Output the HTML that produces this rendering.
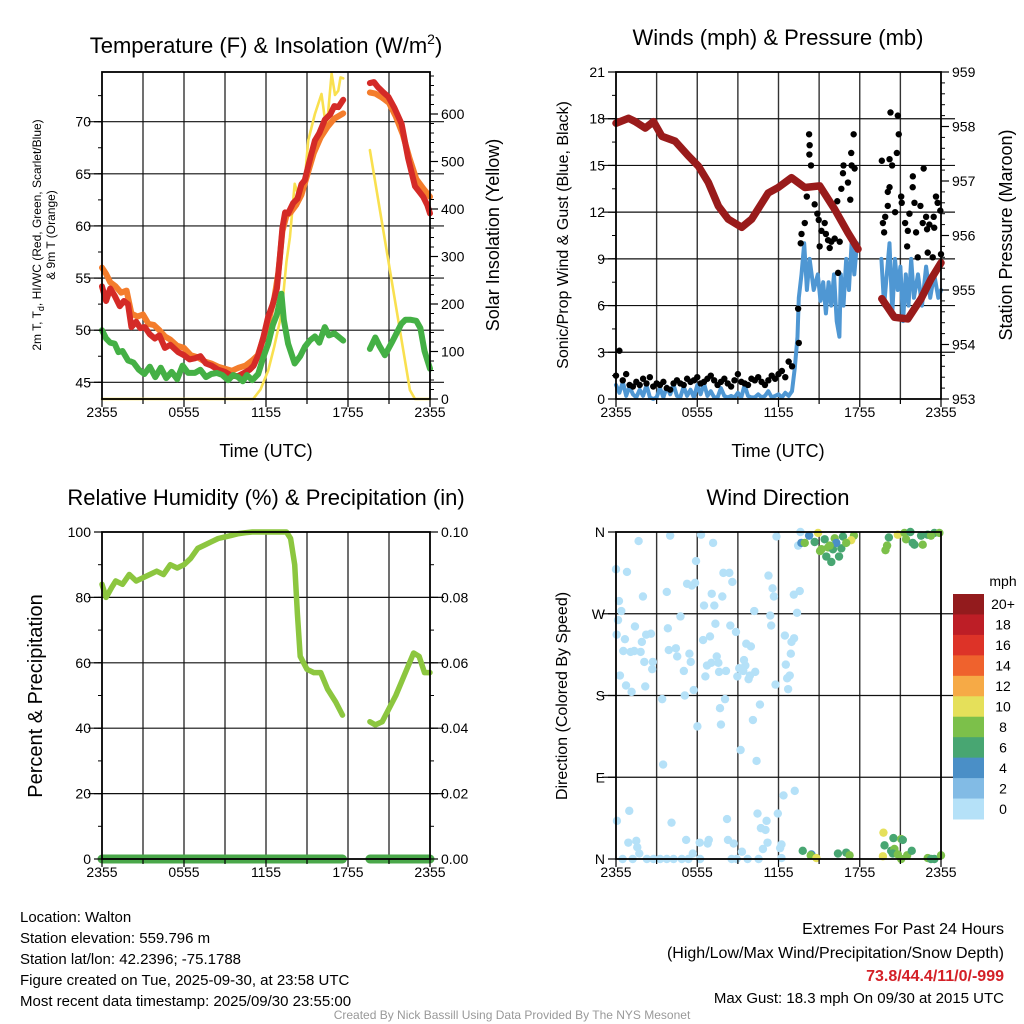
<!DOCTYPE html>
<html><head><meta charset="utf-8"><title>Walton Mesonet Meteogram</title>
<style>
html,body{margin:0;padding:0;background:#fff;}
svg{display:block;font-family:"Liberation Sans",Arial,sans-serif;}
</style></head>
<body>
<svg id="root" width="1024" height="1024" viewBox="0 0 1024 1024" xmlns="http://www.w3.org/2000/svg">
<rect x="0" y="0" width="1024" height="1024" fill="#fff"/>
<text x="20" y="922" font-size="15">Location: Walton</text>
<text x="20" y="943" font-size="15">Station elevation: 559.796 m</text>
<text x="20" y="964" font-size="15">Station lat/lon: 42.2396; -75.1788</text>
<text x="20" y="985" font-size="15">Figure created on Tue, 2025-09-30, at 23:58 UTC</text>
<text x="20" y="1006" font-size="15">Most recent data timestamp: 2025/09/30 23:55:00</text>
<text x="1004" y="934" font-size="16" text-anchor="end">Extremes For Past 24 Hours</text>
<text x="1004" y="958" font-size="16" text-anchor="end">(High/Low/Max Wind/Precipitation/Snow Depth)</text>
<text x="1004" y="981" font-size="16" font-weight="bold" fill="#d42027" text-anchor="end">73.8/44.4/11/0/-999</text>
<text x="1004" y="1003" font-size="15" text-anchor="end">Max Gust: 18.3 mph On 09/30 at 2015 UTC</text>
<text x="512" y="1019" font-size="12" fill="#999" text-anchor="middle">Created By Nick Bassill Using Data Provided By The NYS Mesonet</text>
</svg>
<script>
// ---------- DATA ----------
const xTickLabels=["2355","0555","1155","1755","2355"];
// Temperature panel
const redT=[0,.3,.6,.93,1.3,1.6,1.9,2.15,2.5,2.8,3.13,3.5,3.86,4.2,4.6,5.0,5.57,6.0,6.4,6.79,7.2,7.6,8.01,8.5,9.0,9.5,9.96,10.4,10.8,11.1,11.43,11.8,12.16,12.5,12.8,13.0,13.2,13.4,13.62,13.99,14.3,14.6,14.84,15.2,15.58,15.9,16.31,16.7,17.0,17.3,17.65,18.6,19.6,19.9,20.2,20.6,20.95,21.4,21.92,22.4,22.9,23.2,23.5,23.8,24];
const redV=[54.2,52.8,54,53.3,52.3,52.8,52.5,50.3,50.8,50.2,50.3,49.6,49.2,49.5,48.3,48.6,47.9,47.6,47.2,47.3,47.5,46.8,46.6,46.2,46.0,45.6,45.6,45.9,46.2,46.6,47.6,49.3,51.3,52.5,54.0,56.8,59.8,61.3,61.2,62.2,62.6,64,64.4,66.3,68.2,68.9,70.2,70.7,71.5,71.4,72.1,null,73.7,73.8,73.3,72.8,72.4,71.3,69.8,66.5,63.8,63.3,62.8,62,61.2];
const orangeT=[0,.3,.6,1,1.4,1.8,2.15,2.6,3,3.4,3.8,4.2,4.6,5.0,5.5,6,6.5,7,7.5,8,8.5,9,9.5,10,10.5,11,11.4,11.8,12.2,12.6,12.9,13.2,13.5,13.8,14.2,14.6,15,15.5,16,16.5,17,17.65,18.6,19.6,20,20.5,21,21.5,22,22.5,23,23.5,24];
const orangeV=[56,55.4,54.6,54.2,53.6,53.8,51.6,51.3,51.5,50.6,50.5,50,49.4,49.1,48.5,48.3,47.6,47.4,47,46.8,46.5,46.3,46.1,46.4,46.6,47.1,47.6,49.2,51,53,55.5,59.5,61,61.3,62,63,64.8,67,68.5,69.5,70.3,70.8,null,72.8,72.7,72.3,71.8,70.5,68.8,66.5,64.5,63.6,62.8];
const greenT=[0,.3,.6,.93,1.2,1.5,1.9,2.3,2.7,3.1,3.5,3.9,4.3,4.7,5.1,5.5,5.9,6.3,6.8,7.2,7.6,8,8.4,8.8,9.23,9.6,9.96,10.3,10.6,11.0,11.43,11.8,12.16,12.5,12.8,13.13,13.3,13.62,14.1,14.5,14.84,15.2,15.58,15.9,16.3,16.6,17.0,17.65,18.6,19.6,20,20.3,20.7,21.2,21.9,22.2,22.6,23,23.3,23.6,24];
const greenV=[50,49.2,48.8,48.7,47.9,48,47.1,46.9,46.2,45.8,46.5,45.5,46.4,45.4,46,45.3,46.6,45.9,45.9,46.2,45.5,45.8,45.9,45.7,45.2,45.7,45.5,45.1,45.7,45.2,45.8,47.4,48.7,50.5,51.5,53.5,51,48.7,46.8,47.5,48.4,49,49.4,48.8,50.3,49.5,49.7,49,null,48.2,49.3,48.5,47.6,48.8,50.6,51,51,50.9,50.2,48,46.3];
const solarT=[0,11.06,11.6,12.16,12.6,13.13,13.5,13.75,14.1,14.48,14.84,15.09,15.58,16.06,16.43,16.8,17.05,17.29,17.45,17.65,18.6,19.6,22.53,22.9,24];
const solarV=[0,0,20,60,110,178,290,340,453,418,460,544,600,642,565,685,640,649,677,675,null,524,19,0,0];
// Wind panel
const windEarly=[0.9,0.4,1.1,0.2,0.8,0.3,0.1,0.6,0.2,0.9,0.1,0.0,0.1,0.7,0.1,0.8,0.3,0.9,0.2,0.1,0.8,0.2,0.6,0.1,0.9,0.3,1.0,0.2,0.5,0.1,0.1,0.7,0.2,0.1,0.2,0.1,0.4,0.1,0.9,0.2,0.1,0.1,0.3,0.1,0.2,0.5,0.1,0.2,0.3,0.1,0.4,0.2];
const windLateT=[13.0,13.2,13.4,13.5,13.7,13.9,14.1,14.3,14.6,14.9,15.1,15.3,15.5,15.7,15.9,16.1,16.3,16.5,16.6,16.8,17.0,17.2,17.4,17.6,17.8,18.6,19.6,19.8,20.0,20.2,20.4,20.6,20.8,21.0,21.2,21.4,21.6,21.8,22.0,22.3,22.6,22.9,23.2,23.5,23.8,24];
const windLateV=[0.5,2,4,6.5,8,10,7,9,7,8,6.3,7.5,5.5,7.5,6,8,5,4,8,6,9,7,10,8,10,null,9,6,8,10,5.5,9,7,8.5,5,8,6,9,6.5,8,6,8.5,6.5,8,6.5,7];
const gustEarly=[1.5,3.1,1.2,1.6,0.9,0.8,1.1,0.9,1.3,1.0,1.4,0.8,1.0,0.9,1.1,0.7,0.6,1.0,1.2,1.0,0.9,1.3,1.1,1.2,1.4,1.0,1.1,1.3,1.5,1.2,0.9,1.1,1.3,1.0,0.8,1.2,1.6,1.1,1.0,0.9,1.3,1.2,1.4,1.1,0.9,1.2,1.5,1.3,1.6,1.8,1.4,2.4,2.1];
const gustLateT=[13.45,13.5,13.64,13.7,13.94,14.09,14.26,14.3,14.28,14.4,14.67,14.87,14.97,15.41,15.17,15.5,15.66,15.9,16.15,15.78,15.04,16.52,16.4,16.64,16.76,17.13,17.3,17.37,16.8,17.4,17.62,17.55,16.34,19.63,20.2,20.39,20.27,20.81,20.88,20.74,20.2,20.07,20.07,19.71,19.88,19.8,20.61,21.06,21.1,21.35,21.55,21.5,21.67,21.91,21.92,22.04,22.16,22.28,22.48,22.65,22.72,22.9,22.97,23.02,23.14,23.39,23.46,23.63,23.75,24,23.95,23.5];
const gustLateV=[5.8,3.6,10.0,10.6,11.3,13.0,17.0,16.3,15.7,15.0,12.5,11.9,11.5,11.3,10.8,10.6,10.2,10.1,10.3,9.7,9.8,10.1,8.1,13.5,14.5,13.9,12.8,15.8,15.0,15.0,14.8,17.0,12.7,15.3,15.4,15.0,18.4,18.2,17.0,15.8,13.6,13.3,12.4,11.3,11.7,10.7,12.0,13.0,12.6,11.3,10.8,9.8,11.9,13.6,14.3,12.6,10.7,9.1,12.4,11.3,14.8,11.7,10.9,9.4,11.2,9.1,11.7,13.0,12.6,9.3,12.1,11.0];
const presT=[0,.93,1.42,2.16,2.77,3.39,4.37,5.35,6.09,6.82,7.56,8.29,9.28,10.01,11.24,11.98,12.96,13.94,15.04,16.15,17.13,17.87,18.7,19.63,20.56,21.55,22.53,23.26,24];
const presV=[958.06,958.15,958.09,957.97,958.09,957.82,957.73,957.46,957.27,956.97,956.54,956.3,956.15,956.3,956.78,956.88,957.06,956.88,956.91,956.48,956.05,955.75,null,954.84,954.5,954.47,954.84,955.2,955.5];
// RH panel
const rhT=[0,.3,.7,1,1.5,2,2.5,3,3.5,4,4.5,5,5.5,6,6.5,7,7.5,8,8.5,9,9.5,10,10.5,11,12,13,13.5,13.8,14.1,14.3,14.5,15,15.5,16,16.5,17.1,17.6,18.6,19.6,20,20.5,21,21.5,22,22.5,22.8,23.2,23.6,24];
const rhV=[84,80,83,85,84,87,85,86,87,88,87,90,89,90,92,95,96,97,98,98.5,99,99.5,99.8,100,100,100,100,98,90,75,62,58,57,57,52,48,44,null,42,41,42,46,50,55,60,63,62,57,57];
const precipT=[0,17.6,18.6,19.6,24];
const precipV=[0,0,null,0,0];
// Wind direction panel (hours, degrees, mph)
const dirT=[1.67,4.0,6.28,7.17,11.85,13.45,5.91,0,0.81,7.93,8.37,11.26,8.59,5.25,5.6,5.84,3.75,1.99,7.07,7.85,11.56,11.66,13.13,13.57,0.22,0.39,6.5,7.26,10.21,11.39,13.37,0.15,4.76,1.4,3.83,7.34,8.44,11.46,8.86,0.05,0.66,2.23,2.58,6.94,6.43,1.91,12.47,13.15,12.96,9.62,9.96,0.54,1.08,1.35,1.82,3.9,4.42,4.52,5.42,5.52,7.44,12.91,2.09,2.72,2.67,6.72,7.04,7.56,9.45,9.55,9.1,9.4,10.28,5.01,7.61,8.12,0.29,6.6,8.96,9.79,9.89,12.54,12.64,12.83,0.74,2.16,1.15,5.74,5.08,11.78,12.71,3.41,8.05,10.63,7.68,10.11,6.01,7.75,9.2,10.38,3.48,12.37,13.2,0.98,0.07,4.1,10.45,11.95,8.2,11.12,10.7,11.04,0.91,1.5,1.57,5.18,6.18,6.85,6.77,8.27,8.69,11.19,10.85,12.22,12.12,1.72,5.67,9.3,0.49,1.23,2.28,2.77,3.26,3.75,4.25,4.86,5.35,6.21,8.54,8.91,9.72,10.53,12.22,
13.62,13.69,14.26,14.92,13.94,14.67,15.41,16.15,16.76,17.57,17.37,15.17,15.66,16.02,16.64,15.07,15.53,15.9,16.47,16.27,17.0,15.78,20.15,20.81,21.3,21.74,21.42,22.04,22.53,22.65,23.02,23.51,23.88,20.02,19.9,21.91,23.26,13.79,14.43,14.38,14.8,16.39,17.0,17.25,19.75,19.83,20.49,21.06,21.18,20.32,20.56,20.44,20.81,21.5,21.84,19.71,21.06,23.02,23.51,24,23.26];
const dirD=[350,356,357,348,355,345,328,319,316,315,315,312,305,303,301,304,294,289,292,289,298,289,291,295,284,273,279,279,273,268,271,263,267,256,254,259,257,257,250,247,242,247,248,245,241,239,246,243,239,237,234,229,228,229,228,230,232,223,226,217,223,226,217,217,209,213,216,216,219,213,210,207,206,207,206,207,202,201,201,198,202,214,199,202,191,190,184,186,180,192,187,176,176,170,166,153,146,148,120,108,104,70,75,53,42,40,50,50,44,42,34,32,18,20,13,21,18,21,17,21,17,18,11,16,12,6,6,8,0,0,0,0,0,0,0,0,0,0,0,0,0,0,1,
360,348,356,359,348,349,352,353,355,356,351,341,343,341,342,339,333,327,333,348,348,345,354,357,359,360,352,346,356,346,357,359,359,345,340,348,356,9,5,4,1,6,7,4,29,15,23,22,21,9,11,6,5,4,9,3,0,1,0,4,0];
const dirS=[1,1,1,1,1,1,1,1,1,1,1,1,1,1,1,1,1,1,1,1,1,1,1,1,1,1,1,1,1,1,1,1,1,1,1,1,1,1,1,1,1,1,1,1,1,1,1,1,1,1,1,1,1,1,1,1,1,1,1,1,1,1,1,1,1,1,1,1,1,1,1,1,1,1,1,1,1,1,1,1,1,1,1,1,1,1,1,1,1,1,1,1,1,1,1,1,1,1,1,1,1,1,1,1,1,1,1,1,1,1,1,1,1,1,1,1,1,1,1,1,1,1,1,1,1,1,1,1,1,1,1,1,1,1,1,1,1,1,1,1,1,1,1,1,
4,4,10,8,6,6,8,6,8,10,8,8,6,6,8,6,6,6,4,8,8,6,10,8,6,8,6,6,8,6,6,8,8,8,6,8,6,4,8,10,6,6,8,10,6,6,8,6,6,8,6,8,8,6,10,8,8,6,8,6,8];
const cbLabels=["20+","18","16","14","12","10","8","6","4","2","0"];
const cbColors=["#931b1d","#bd1e26","#dd3328","#ef622d","#f6aa46","#e5e05a","#7cc04a","#48a672","#4a8fc7","#82bbe5","#b5e1f8"];

// ---------- HELPERS ----------
const NS="http://www.w3.org/2000/svg";
const root=document.getElementById('root');
function el(tag,attrs,parent){const e=document.createElementNS(NS,tag);for(const k in attrs)e.setAttribute(k,attrs[k]);(parent||root).appendChild(e);return e;}
function txt(x,y,s,size,anchor,extra){const t=el('text',Object.assign({x:x,y:y,'font-size':size,'text-anchor':anchor||'start'},extra||{}));t.textContent=s;return t;}
function mkPanel(x0,x1,y0,y1){return {x0,x1,y0,y1,sx:t=>x0+t/24*(x1-x0)};}
function lin(d0,d1,p0,p1){return v=>p0+(v-d0)/(d1-d0)*(p1-p0);}
function pathD(xs,ys,sx,sy){let d='',pen=false;for(let i=0;i<xs.length;i++){if(ys[i]===null){pen=false;continue;}d+=(pen?'L':'M')+sx(xs[i]).toFixed(1)+' '+sy(ys[i]).toFixed(1);pen=true;}return d;}
function series(xs,ys,sx,sy,color,w,name){const p=el('path',{d:pathD(xs,ys,sx,sy),fill:'none',stroke:color,'stroke-width':w,'stroke-linejoin':'round','stroke-linecap':'round'});


return p;}
function grid(P,hvals,sy,name){
  for(let h=3;h<24;h+=3){const g=el('line',{x1:P.sx(h),x2:P.sx(h),y1:P.y0,y2:P.y1,stroke:'#333','stroke-width':1.4});
    
    }
  hvals.forEach(v=>{const y=sy(v);if(y<=P.y0+1||y>=P.y1-1)return;const g=el('line',{x1:P.x0-14,x2:P.x1+14,y1:y,y2:y,stroke:'#111','stroke-width':1.2});
    
    });
}
function frame(P,name){const r=el('rect',{x:P.x0,y:P.y0,width:P.x1-P.x0,height:P.y1-P.y0,fill:'none',stroke:'#000','stroke-width':1.8});

}
function xAxis(P,name){
  for(let h=0;h<=24;h+=3){const t=el('line',{x1:P.sx(h),x2:P.sx(h),y1:P.y1,y2:P.y1+(h%6==0?8:5),stroke:'#000','stroke-width':1.2});
    
    }
  xTickLabels.forEach((s,i)=>{const t=txt(P.sx(i*6),P.y1+18,s,14,'middle');
    
    });
}
function yTicks(P,side,vals,minor,sy,labels,name){
  const x=side=='l'?P.x0:P.x1,dir=side=='l'?-1:1;
  minor.forEach(v=>{const y=sy(v);const t=el('line',{x1:x,x2:x+dir*4,y1:y,y2:y,stroke:'#000','stroke-width':1});
    
    });
  vals.forEach((v,i)=>{const y=sy(v);const t=el('line',{x1:x,x2:x+dir*8,y1:y,y2:y,stroke:'#000','stroke-width':1.2});
    
    
    const l=txt(x+dir*11,y+5,labels[i],14,side=='l'?'end':'start');
    
    });
}
function rng(a,b,s){const r=[];for(let v=a;v<=b+1e-9;v+=s)r.push(+v.toFixed(4));return r;}
function vtext(x,y,s,size,name){const t=txt(0,0,s,size,'middle',{transform:`translate(${x},${y}) rotate(-90)`});

return t;}

// ---------- PANEL 1: Temperature ----------
(function(){
  const P=mkPanel(102,430,72,399);
  const sy=lin(45,70,382.3,121.7), ss=lin(0,600,399,114);
  const tv=rng(45,70,5);
  grid(P,tv,sy,'temp');
  series(solarT,solarV.map(v=>v===null?null:Math.min(v,688)),P.sx,ss,'#f9e04f',2.6,'solar-insolation-line');
  series(orangeT,orangeV,P.sx,sy,'#f47d2c',6,'temp-9m-line');
  series(redT,redV,P.sx,sy,'#d42a27',6,'temp-2m-line');
  series(greenT,greenV,P.sx,sy,'#44b045',6,'dewpoint-line');
  frame(P,'temp');xAxis(P,'temp');
  yTicks(P,'l',tv,rng(42.5,75,2.5).filter(v=>sy(v)>=P.y0&&sy(v)<=P.y1),sy,tv.map(String),'temp-left');
  const sv=rng(0,600,100);
  yTicks(P,'r',sv,rng(0,680,20),ss,sv.map(String),'temp-right');
  let t=txt(266,53,'Temperature (F) & Insolation (W/m',22,'middle');
  
  
  const sup=el('tspan',{'font-size':14,dy:-9},t);sup.textContent='2';
  const cl=el('tspan',{dy:9},t);cl.textContent=')';
  t=txt(266,457,'Time (UTC)',18,'middle');
  
  
  const yl=txt(0,0,'2m T, T',12,'middle',{transform:'translate(41,235) rotate(-90)'});
  
  
  const sb=el('tspan',{'font-size':9,dy:3},yl);sb.textContent='d';
  const rest=el('tspan',{dy:-3},yl);rest.textContent=', HI/WC (Red, Green, Scarlet/Blue)';
  vtext(55,235,'& 9m T (Orange)',12,'temp-y-axis-title-line2');
  vtext(499,235,'Solar Insolation (Yellow)',18,'solar-y-axis-title');
})();

// ---------- PANEL 2: Winds ----------
(function(){
  const P=mkPanel(616,941,72,399);
  const sy=lin(0,21,399,72), sp=lin(953,959,399,72);
  const wv=rng(0,21,3);
  grid(P,wv,sy,'wind');
  const et=windEarly.map((v,i)=>i*0.25);
  series(et.concat(windLateT),windEarly.concat(windLateV),P.sx,sy,'#4f97d3',4,'wind-speed-line');
  gustEarly.forEach((v,i)=>{const c=el('circle',{cx:P.sx(i*0.25),cy:sy(v),r:3.2,fill:'#000'});
    
    });
  gustLateT.forEach((t,i)=>{const c=el('circle',{cx:P.sx(t),cy:sy(gustLateV[i]),r:3.2,fill:'#000'});
    
    });
  series(presT,presV,P.sx,sp,'#991b1b',7.5,'pressure-line');
  frame(P,'wind');xAxis(P,'wind');
  yTicks(P,'l',wv,rng(0,21,1.5),sy,wv.map(String),'wind-left');
  const pv=rng(953,959,1);
  yTicks(P,'r',pv,rng(953,959,0.2),sp,pv.map(String),'pressure-right');
  let t=txt(778,45,'Winds (mph) & Pressure (mb)',22,'middle');
  
  
  t=txt(778,457,'Time (UTC)',18,'middle');
  
  
  vtext(568,235,'Sonic/Prop Wind & Gust (Blue, Black)',16,'wind-y-axis-title');
  vtext(1012,235,'Station Pressure (Maroon)',18,'pressure-y-axis-title');
})();

// ---------- PANEL 3: RH ----------
(function(){
  const P=mkPanel(102,430,532,859);
  const sy=lin(0,100,859,532), sr=lin(0,0.1,859,532);
  const rv=rng(0,100,20);
  grid(P,rv,sy,'rh');
  series(rhT,rhV,P.sx,sy,'#8cc63f',5.5,'rh-line');
  series(precipT,precipV,P.sx,sr,'#4aa84a',9,'precip-line');
  frame(P,'rh');xAxis(P,'rh');
  yTicks(P,'l',rv,rng(0,100,10),sy,rv.map(String),'rh-left');
  const pv=rng(0,0.1,0.02);
  yTicks(P,'r',pv,rng(0,0.1,0.01),sr,pv.map(v=>v.toFixed(2)),'precip-right');
  const t=txt(266,505,'Relative Humidity (%) & Precipitation (in)',22,'middle');
  
  
  vtext(42,696,'Percent & Precipitation',20,'rh-y-axis-title');
})();

// ---------- PANEL 4: Wind direction ----------
(function(){
  const P=mkPanel(616,941,532,859);
  const sy=lin(0,360,859,532);
  const dv=[0,90,180,270,360];
  grid(P,dv,sy,'dir');
  function col(s){const idx=Math.min(10,Math.floor(s/2));return cbColors[10-idx];}
  dirT.forEach((t,i)=>{const c=el('circle',{cx:P.sx(t),cy:sy(dirD[i]),r:4.2,fill:col(dirS[i])});
    
    });
  frame(P,'dir');xAxis(P,'dir');
  yTicks(P,'l',dv,[],sy,["N","E","S","W","N"],'dir-left');
  const t=txt(778,505,'Wind Direction',22,'middle');
  
  
  vtext(567,696,'Direction (Colored By Speed)',16,'dir-y-axis-title');
  const h=(819-594)/11;
  cbColors.forEach((c,i)=>{const r=el('rect',{x:953,y:594+i*h,width:31,height:h+0.5,fill:c});
    
    
    const l=txt(1003,594+i*h+h/2+5,cbLabels[i],14,'middle');
    
    });
  const m=txt(1003,586,'mph',14,'middle');
  
  
})();
</script>
</body></html>
